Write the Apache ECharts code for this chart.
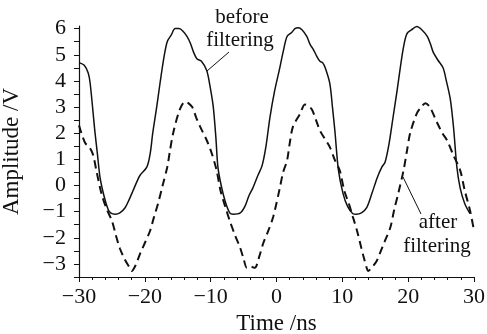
<!DOCTYPE html>
<html><head><meta charset="utf-8">
<script src="https://cdn.jsdelivr.net/npm/echarts@6/dist/echarts.min.js"></script>
<style>html,body{margin:0;padding:0;background:#fff}#c{width:487px;height:334px}</style>
</head><body><div id="c"></div>
<script>
const xTicks = [-30,-20,-10,0,10,20,30];
const yTicks = [-3,-2,-1,0,1,2,3,4,5,6];
const beforeFiltering = [[-30,4.7],[-29.2,4.6],[-28.6,4.3],[-28.3,3.9],[-27.6,2.1],[-27.2,1.2],[-26.8,0.3],[-26.2,-0.4],[-25.6,-0.9],[-25.2,-1.05],[-24.5,-1.1],[-23.8,-1.05],[-23,-0.85],[-22.4,-0.55],[-21.8,-0.2],[-21.2,0.15],[-20.7,0.4],[-19.7,0.7],[-19.2,1.2],[-18.8,2.0],[-18.2,3.0],[-17.7,3.9],[-17.1,4.9],[-16.6,5.5],[-16.0,5.75],[-15.4,6.0],[-14.8,6.0],[-14.2,5.9],[-13.6,5.7],[-13.1,5.45],[-12.6,5.1],[-12.1,4.85],[-11.4,4.75],[-10.6,4.4],[-10.1,3.8],[-9.6,3.0],[-9.2,1.8],[-8.9,0.7],[-8.4,0.0],[-7.8,-0.6],[-7.1,-1.05],[-6.6,-1.1],[-5.5,-1.05],[-4.8,-0.8],[-4.2,-0.4],[-3.6,-0.1],[-2.8,0.4],[-2.2,0.75],[-1.6,1.5],[-1.0,2.6],[-0.3,3.6],[0.5,4.5],[1.0,5.1],[1.6,5.7],[2.3,5.85],[2.8,6.0],[3.3,6.03],[3.9,5.95],[4.6,5.7],[5.1,5.4],[5.6,5.2],[6.1,4.95],[6.6,4.75],[7.0,4.7],[7.4,4.5],[8.1,3.9],[8.5,3.0],[8.9,2.0],[9.4,0.6],[10.1,-0.3],[10.8,-0.8],[11.6,-1.08],[12.1,-1.1],[12.9,-1.05],[13.7,-0.85],[14.5,-0.3],[15.3,0.3],[16.0,0.7],[16.5,0.9],[17.1,1.6],[17.7,2.6],[18.3,3.6],[18.8,4.5],[19.3,5.3],[19.8,5.8],[20.5,5.95],[21.3,6.08],[22.1,5.95],[22.9,5.7],[23.4,5.4],[23.8,5.1],[24.5,4.8],[25.3,4.5],[25.8,4.0],[26.4,3.3],[26.9,2.2],[27.4,0.7],[27.9,-0.1],[28.6,-0.7],[29.4,-1.08]];
const afterFiltering = [[-30,2.3],[-29.5,1.9],[-29,1.6],[-28.5,1.5],[-27.9,1.2],[-27.3,0.5],[-26.6,-0.3],[-25.8,-0.9],[-25,-1.35],[-24.4,-1.9],[-23.8,-2.4],[-23.1,-2.8],[-22.3,-3.15],[-22,-3.27],[-21.5,-3.1],[-20.7,-2.6],[-20,-2.2],[-19.2,-1.73],[-18.6,-1.2],[-18,-0.7],[-17.3,0],[-16.6,0.7],[-16.2,1.3],[-15.7,2.0],[-14.7,2.9],[-13.9,3.2],[-13.4,3.15],[-12.8,3.0],[-12.2,2.6],[-11.6,2.25],[-10.6,1.73],[-9.8,1.2],[-9.1,0.58],[-8.5,-0.2],[-7.8,-0.8],[-7.1,-1.35],[-6.3,-1.9],[-5.5,-2.4],[-5.0,-2.8],[-4.5,-3.15],[-4.0,-3.1],[-3.3,-3.15],[-2.6,-2.7],[-2,-2.2],[-1.2,-1.7],[-0.5,-1.2],[0.5,-0.1],[1.0,0.5],[1.6,0.95],[2.0,1.6],[2.5,2.25],[3.6,2.75],[4.3,3.1],[4.8,3.05],[5.4,2.9],[6.0,2.5],[6.6,2.1],[7.3,1.8],[8.1,1.47],[8.9,0.95],[9.6,0.58],[10.3,-0.2],[11.0,-0.7],[11.6,-1.2],[12.2,-1.7],[12.7,-2.2],[13.2,-2.7],[13.7,-3.15],[13.9,-3.27],[14.6,-3.1],[15.2,-2.9],[15.7,-2.6],[16.5,-2.1],[17.3,-1.6],[17.9,-0.9],[18.5,-0.3],[19.3,0.58],[19.8,1.3],[20.3,2.0],[21.3,2.75],[22.0,3.0],[22.6,3.15],[23.3,3.0],[24.4,2.4],[25.2,2.0],[25.9,1.73],[26.8,1.2],[27.9,0.58],[28.6,-0.2],[29.4,-0.96],[30,-1.73]];
const yMinorTicks = [-3.5,-3,-2.5,-2,-1.5,-1,-0.5,0,0.5,1,1.5,2,2.5,3,3.5,4,4.5,5,5.5,6];

const FONT = '"Liberation Serif", "Times New Roman", serif';
const minus = v => String(v).replace('-', '\u2212');
const chart = echarts.init(document.getElementById('c'));
chart.setOption({
  animation: false,
  grid: {left: 79, right: 13, top: 26, bottom: 57, containLabel: false, outerBoundsMode: 'none'},
  xAxis: {
    type: 'value', min: -30, max: 30, interval: 10,
    name: 'Time /ns', nameLocation: 'middle', nameGap: 33,
    nameTextStyle: {fontFamily: FONT, fontSize: 23, color: '#111'},
    axisLine: {onZero: false, lineStyle: {color: '#111', width: 1.2}},
    axisTick: {length: 5, lineStyle: {color: '#111'}},
    minorTick: {show: true, splitNumber: 5, length: 3, lineStyle: {color: '#111'}},
    axisLabel: {fontFamily: FONT, fontSize: 22, color: '#111', margin: 9, formatter: minus, customValues: xTicks},
    splitLine: {show: false}
  },
  yAxis: {
    type: 'value', min: -3.5, max: 6.1,
    name: 'Amplitude /V', nameLocation: 'middle', nameGap: 56,
    nameTextStyle: {fontFamily: FONT, fontSize: 23, color: '#111'},
    axisLine: {show: true, onZero: false, lineStyle: {color: '#111', width: 1.2}},
    axisTick: {length: 5, lineStyle: {color: '#111'}, customValues: yMinorTicks},
    axisLabel: {fontFamily: FONT, fontSize: 22, color: '#111', margin: 13, formatter: minus, customValues: yTicks},
    splitLine: {show: false}
  },
  series: [
    {type: 'line', data: beforeFiltering, showSymbol: false, smooth: 0.3,
     lineStyle: {color: '#111', width: 1.5}},
    {type: 'line', data: afterFiltering, showSymbol: false, smooth: 0.3,
     lineStyle: {color: '#111', width: 2, type: [8, 5]}}
  ],
  graphic: [
    {type: 'text', style: {text: 'before', x: 242, y: 17, align: 'center', verticalAlign: 'middle', font: '21px ' + FONT, fill: '#111'}},
    {type: 'text', style: {text: 'filtering', x: 240, y: 40, align: 'center', verticalAlign: 'middle', font: '21px ' + FONT, fill: '#111'}},
    {type: 'line', shape: {x1: 229, y1: 52, x2: 207, y2: 71}, style: {stroke: '#111', lineWidth: 1}},
    {type: 'text', style: {text: 'after', x: 438, y: 222, align: 'center', verticalAlign: 'middle', font: '21px ' + FONT, fill: '#111'}},
    {type: 'text', style: {text: 'filtering', x: 437, y: 246, align: 'center', verticalAlign: 'middle', font: '21px ' + FONT, fill: '#111'}},
    {type: 'line', shape: {x1: 421, y1: 214, x2: 403, y2: 177}, style: {stroke: '#111', lineWidth: 1}}
  ]
});
</script></body></html>
